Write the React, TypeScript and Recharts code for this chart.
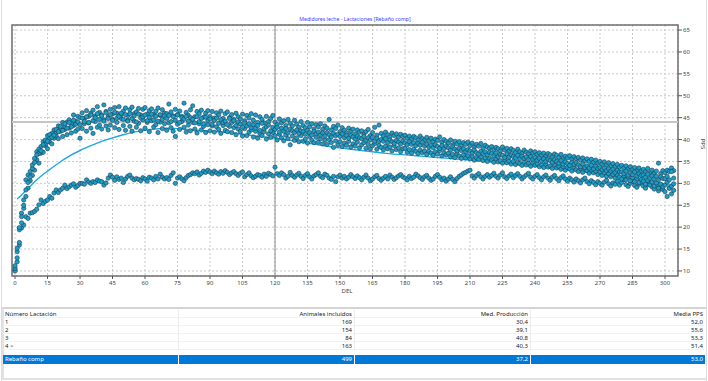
import React from 'react';
import {
  ComposedChart, Scatter, Line, XAxis, YAxis, CartesianGrid, ReferenceLine, ReferenceArea,
} from 'recharts';

// axis ticks
const xTicks = [0, 15, 30, 45, 60, 75, 90, 105, 120, 135, 150, 165, 180, 195, 210, 225, 240, 255, 270, 285, 300];
const yTicks = [10, 15, 20, 25, 30, 35, 40, 45, 50, 55, 60, 65];
const xMinorTicks = [0, 3, 6, 9, 12, 15, 18, 21, 24, 27, 30, 33, 36, 39, 42, 45, 48, 51, 54, 57, 60, 63, 66, 69, 72, 75, 78, 81, 84, 87, 90, 93, 96, 99, 102, 105, 108, 111, 114, 117, 120, 123, 126, 129, 132, 135, 138, 141, 144, 147, 150, 153, 156, 159, 162, 165, 168, 171, 174, 177, 180, 183, 186, 189, 192, 195, 198, 201, 204, 207, 210, 213, 216, 219, 222, 225, 228, 231, 234, 237, 240, 243, 246, 249, 252, 255, 258, 261, 264, 267, 270, 273, 276, 279, 282, 285, 288, 291, 294, 297, 300, 303];
const yMinorTicks = [9, 10, 11, 12, 13, 14, 15, 16, 17, 18, 19, 20, 21, 22, 23, 24, 25, 26, 27, 28, 29, 30, 31, 32, 33, 34, 35, 36, 37, 38, 39, 40, 41, 42, 43, 44, 45, 46, 47, 48, 49, 50, 51, 52, 53, 54, 55, 56, 57, 58, 59, 60, 61, 62, 63, 64, 65, 66];

// PPS per DEL (day 0..304), one value per day for each lactation group
const lact1 = [
  10.2, 12.1, 15.9, 19.8, 20.5, 22.4, 22.0, 23.2, 23.3, 23.6,
  24.1, 25.1, 26.2, 25.4, 25.9, 26.2, 27.0, 26.6, 27.8, 28.5,
  27.9, 28.5, 28.9, 29.6, 28.8, 29.2, 29.6, 29.9, 29.1, 29.5,
  30.0, 30.0, 29.8, 30.8, 30.3, 30.0, 30.4, 30.2, 30.8, 30.5,
  30.4, 29.6, 30.1, 31.2, 31.9, 31.4, 30.7, 31.5, 30.9, 31.2,
  30.2, 31.0, 31.6, 31.9, 31.2, 30.8, 31.1, 30.9, 30.6, 31.3,
  31.0, 30.5, 31.4, 31.2, 30.8, 31.6, 31.0, 32.1, 31.4, 31.0,
  31.3, 30.9, 31.8, 32.4, 30.0, 31.2, 31.5, 31.0, 30.6, 31.3,
  31.8, 32.0, 32.4, 32.2, 32.6, 31.9, 32.3, 32.8, 32.5, 33.0,
  32.6, 32.2, 32.8, 32.4, 32.1, 32.7, 32.3, 32.9, 32.5, 32.0,
  32.4, 32.7, 32.2, 31.8, 32.3, 32.6, 31.5, 32.0, 32.4, 31.7,
  31.3, 31.6, 32.0, 31.8, 31.4, 32.1, 31.6, 32.3, 32.0, 31.7,
  33.7, 32.2, 31.8, 32.4, 32.0, 31.2, 31.6, 32.5, 31.8, 31.4,
  31.9, 32.3, 31.6, 31.1, 31.8, 32.2, 31.5, 31.0, 31.7, 32.0,
  32.4, 31.6, 31.3, 32.1, 31.8, 31.2, 30.9, 31.6, 30.4, 31.5,
  31.9, 31.2, 31.6, 31.0, 31.4, 32.0, 31.5, 31.1, 31.7, 31.3,
  30.8, 31.4, 31.9, 31.2, 30.6, 31.0, 31.5, 31.8, 31.1, 30.7,
  31.2, 31.6, 31.0, 31.9, 31.4, 30.9, 31.3, 31.7, 32.0, 31.5,
  31.2, 30.8, 31.6, 31.1, 31.4, 32.1, 31.7, 31.3, 30.9, 31.5,
  31.8, 31.2, 30.7, 31.0, 31.6, 32.0, 31.4, 30.8, 31.2, 30.5,
  31.0, 31.5, 30.9, 30.4, 31.1, 31.6, 31.9, 32.3, 32.5, 32.8,
  33.0, 31.7, 31.2, 31.8, 32.2, 31.5, 31.0, 31.6, 32.0, 31.4,
  31.8, 32.3, 31.6, 31.2, 31.9, 32.4, 31.5, 31.1, 31.7, 32.1,
  31.3, 31.8, 32.2, 31.6, 31.0, 31.5, 31.9, 32.3, 31.4, 31.0,
  31.6, 32.0, 31.3, 30.8, 31.5, 31.9, 31.2, 30.7, 31.4, 31.8,
  31.1, 30.6, 31.3, 31.7, 31.0, 30.5, 31.2, 30.8, 30.3, 31.0,
  30.6, 30.1, 30.8, 31.2, 30.4, 29.9, 30.6, 30.2, 29.7, 30.4,
  30.0, 29.6, 30.3, 30.7, 29.9, 29.4, 30.1, 29.8, 30.5, 29.6,
  30.2, 30.8, 29.7, 29.3, 30.0, 30.5, 29.5, 29.1, 29.8, 30.3,
  29.4, 28.9, 29.7, 30.1, 29.2, 28.7, 29.5, 28.3, 29.0, 28.6,
  28.1, 27.0, 28.9, 27.6, 28.4,
];

const lact2 = [
  10.0, 14.4, 19.4, 23.2, 24.3, 27.0, 28.9, 30.6, 31.8, 33.0,
  35.4, 34.6, 36.9, 37.1, 38.6, 37.9, 39.4, 39.0, 40.3, 40.8,
  40.2, 41.9, 40.7, 42.3, 41.1, 42.6, 41.5, 43.2, 41.9, 42.4,
  40.3, 42.5, 43.6, 41.9, 43.8, 42.6, 41.4, 44.1, 42.8, 43.3,
  42.4, 44.5, 43.1, 42.2, 43.3, 44.6, 42.7, 43.9, 42.3, 44.8,
  43.2, 42.1, 44.4, 43.0, 41.9, 44.2, 42.8, 43.7, 42.0, 44.5,
  42.6, 43.9, 41.8, 44.3, 42.9, 43.4, 41.6, 44.0, 42.5, 43.6,
  42.1, 43.8, 42.7, 41.9, 40.7, 43.5, 42.3, 44.1, 42.8, 41.7,
  43.3, 42.0, 43.9, 42.4, 41.5, 43.6, 42.2, 43.0, 41.6, 43.4,
  42.0, 43.1, 41.7, 42.9, 42.3, 41.4, 43.2, 42.1, 41.8, 43.0,
  41.6, 42.7, 41.1, 42.4, 41.8, 40.8, 42.5, 40.9, 41.7, 42.2,
  40.6, 41.9, 40.3, 41.4, 40.9, 41.8, 40.1, 41.3, 40.5, 41.6,
  40.9, 39.9, 41.2, 40.4, 39.7, 41.0, 40.2, 38.8, 40.8, 39.8,
  40.4, 39.5, 40.9, 39.6, 40.1, 39.2, 40.7, 39.8, 39.3, 40.5,
  39.4, 40.2, 39.0, 39.9, 38.9, 40.0, 39.3, 38.2, 39.7, 38.8,
  39.5, 38.4, 39.2, 38.7, 39.6, 38.3, 39.0, 38.5, 39.4, 38.1,
  38.8, 39.3, 38.0, 38.9, 37.9, 38.6, 39.1, 37.8, 38.7, 38.2,
  37.6, 38.5, 37.9, 38.3, 37.4, 38.6, 37.7, 38.1, 37.2, 37.9,
  38.0, 37.1, 37.7, 36.9, 37.8, 37.3, 36.8, 37.6, 37.0, 37.4,
  36.6, 37.3, 36.9, 36.4, 37.2, 36.7, 37.5, 36.3, 36.9, 36.5,
  36.9, 36.1, 36.6, 35.9, 36.8, 36.2, 35.7, 36.5, 35.8, 36.3,
  35.6, 36.2, 35.3, 35.9, 35.5, 36.1, 35.2, 35.8, 35.0, 35.7,
  35.3, 34.8, 35.6, 34.9, 35.2, 34.6, 35.4, 34.7, 35.1, 34.4,
  35.0, 34.3, 34.8, 34.5, 34.1, 34.9, 34.2, 34.6, 33.9, 34.7,
  34.1, 34.5, 33.8, 34.3, 33.6, 34.4, 33.7, 34.0, 33.4, 34.2,
  33.5, 33.9, 33.2, 33.8, 33.0, 33.6, 33.3, 32.8, 33.7, 33.1,
  32.7, 33.4, 32.5, 33.2, 32.9, 32.3, 33.0, 32.4, 32.8, 32.0,
  32.6, 31.8, 32.4, 31.6, 32.2, 31.5, 32.0, 31.2, 31.9, 31.4,
  31.0, 31.7, 30.8, 31.5, 30.6, 31.3, 30.4, 31.1, 30.2, 30.9,
  30.5, 29.8, 30.7, 29.6, 30.3, 29.4, 30.1, 28.9, 29.8, 29.2,
  29.6, 30.3, 28.9, 29.4, 29.9,
];

const lact3 = [
  10.6, 13.0, 16.5, 21.0, 26.2, 28.5, 31.9, 32.7, 33.4, 35.7,
  37.2, 36.8, 38.4, 39.5, 39.0, 40.9, 40.3, 41.4, 42.2, 41.6,
  43.1, 42.4, 43.9, 42.9, 44.0, 44.5, 43.6, 45.6, 44.2, 45.3,
  45.0, 46.1, 44.8, 46.6, 45.3, 46.0, 46.7, 45.4, 47.5, 46.2,
  45.6, 47.9, 46.4, 45.2, 46.9, 45.8, 47.3, 46.0, 47.5, 45.7,
  46.5, 47.2, 45.5, 46.8, 47.4, 45.9, 46.3, 47.1, 45.6, 46.9,
  47.3, 45.8, 46.6, 47.0, 45.7, 46.4, 47.2, 45.5, 46.8, 46.0,
  45.9, 48.1, 46.3, 45.4, 46.9, 45.7, 46.5, 45.3, 48.3, 46.2,
  45.5, 46.8, 47.7, 45.2, 46.4, 45.9, 46.7, 45.1, 46.0, 46.6,
  45.3, 46.4, 44.9, 46.1, 45.6, 46.5, 44.8, 45.9, 46.3, 45.0,
  45.7, 44.6, 46.0, 45.2, 44.7, 45.8, 44.3, 45.5, 44.9, 45.9,
  44.4, 45.6, 43.9, 45.2, 44.6, 43.8, 45.3, 44.1, 44.8, 45.5,
  44.0, 43.4, 44.7, 43.8, 44.3, 43.2, 44.6, 43.7, 43.1, 44.4,
  43.5, 42.8, 44.1, 43.2, 42.7, 43.9, 42.9, 43.6, 42.4, 43.4,
  42.9, 43.6, 42.3, 43.1, 42.6, 44.6, 42.2, 43.0, 42.5, 43.3,
  41.8, 42.7, 42.1, 41.5, 42.6, 41.9, 42.4, 41.3, 42.2, 41.7,
  42.0, 41.2, 41.8, 42.3, 40.9, 41.6, 42.8, 41.0, 43.3, 41.4,
  40.8, 41.7, 41.1, 40.6, 41.5, 40.9, 41.3, 40.5, 41.2, 40.7,
  41.0, 40.3, 40.8, 40.1, 40.7, 40.4, 39.9, 40.8, 40.2, 39.8,
  40.5, 39.7, 40.3, 39.5, 40.1, 39.8, 40.6, 39.4, 40.0, 39.6,
  39.2, 39.9, 38.8, 39.6, 39.0, 39.5, 38.6, 39.3, 38.9, 39.4,
  38.6, 39.2, 38.3, 38.9, 38.5, 39.1, 38.1, 38.7, 38.3, 38.0,
  38.4, 37.7, 38.2, 37.9, 37.4, 38.3, 37.6, 38.0, 37.3, 37.9,
  37.5, 37.0, 37.8, 37.2, 36.8, 37.6, 37.1, 36.7, 37.4, 36.9,
  37.2, 36.6, 37.0, 36.4, 36.9, 36.2, 36.8, 36.5, 36.0, 36.7,
  36.4, 35.9, 36.6, 35.7, 36.2, 35.8, 36.3, 35.5, 36.1, 35.6,
  35.9, 35.3, 35.8, 35.1, 35.6, 35.0, 35.5, 34.8, 35.3, 34.6,
  35.0, 34.4, 34.9, 34.2, 34.7, 34.0, 34.5, 33.8, 34.3, 33.7,
  34.1, 33.5, 34.0, 33.3, 33.8, 33.1, 33.6, 32.9, 33.5, 32.8,
  33.2, 32.6, 33.4, 32.4, 33.0, 32.3, 32.8, 34.6, 32.2, 32.9,
  32.4, 33.0, 32.7, 33.5, 32.9,
];

const lact4 = [
  11.2, 15.2, 19.9, 22.4, 25.0, 30.8, 30.2, 31.5, 34.2, 34.8,
  36.5, 37.8, 37.4, 38.8, 39.9, 39.6, 41.1, 40.5, 41.0, 42.3,
  41.8, 43.0, 42.1, 43.6, 42.6, 43.9, 42.9, 44.4, 43.5, 44.0,
  43.4, 44.9, 44.1, 45.2, 43.9, 45.6, 44.3, 45.0, 45.9, 44.6,
  45.4, 44.2, 46.1, 44.8, 45.7, 44.4, 46.2, 44.9, 45.3, 46.0,
  44.6, 45.7, 44.2, 45.9, 44.8, 45.4, 44.0, 45.8, 44.9, 45.2,
  45.6, 44.3, 45.1, 45.8, 44.5, 45.3, 44.2, 45.7, 44.6, 45.4,
  44.8, 45.5, 44.1, 45.2, 44.4, 45.6, 43.9, 45.0, 44.7, 45.3,
  44.2, 45.0, 44.6, 43.8, 45.2, 44.1, 44.8, 43.6, 45.1, 44.3,
  44.7, 43.5, 44.4, 44.9, 43.7, 44.5, 43.9, 44.2, 43.4, 44.8,
  43.9, 44.3, 43.2, 44.0, 43.5, 42.8, 43.8, 43.1, 43.6, 42.7,
  43.4, 42.6, 43.2, 42.1, 43.7, 42.5, 42.9, 43.3, 42.0, 42.8,
  42.3, 42.8, 41.7, 42.6, 41.9, 42.5, 41.5, 42.4, 42.0, 41.6,
  42.2, 41.4, 42.0, 41.8, 41.2, 42.1, 41.6, 41.0, 41.9, 41.3,
  41.7, 41.0, 41.5, 40.8, 41.6, 41.1, 40.6, 41.4, 40.9, 41.2,
  40.7, 41.3, 40.4, 40.9, 40.3, 41.0, 40.6, 40.1, 40.8, 40.4,
  40.2, 40.7, 39.8, 40.4, 39.9, 40.5, 39.6, 40.3, 39.7, 40.0,
  39.6, 40.2, 39.3, 39.9, 39.5, 39.1, 39.8, 39.4, 39.0, 39.7,
  39.2, 38.8, 39.5, 38.9, 39.3, 38.6, 39.1, 38.7, 39.4, 38.5,
  38.9, 38.3, 38.7, 38.1, 38.8, 38.4, 38.0, 38.6, 37.9, 38.5,
  38.1, 37.6, 38.3, 37.8, 37.4, 38.0, 37.5, 37.9, 37.2, 37.7,
  37.4, 36.9, 37.6, 37.0, 36.7, 37.3, 36.8, 37.2, 36.5, 37.1,
  36.8, 36.3, 36.9, 36.1, 36.6, 36.4, 35.9, 36.7, 36.0, 36.5,
  36.1, 35.8, 36.4, 35.6, 36.2, 35.7, 36.0, 35.4, 36.1, 35.5,
  35.9, 35.3, 35.7, 35.1, 35.6, 35.0, 35.5, 35.2, 34.8, 35.4,
  35.0, 34.6, 35.2, 34.4, 34.9, 34.5, 34.1, 34.8, 34.3, 34.7,
  34.2, 33.8, 34.4, 33.6, 34.0, 33.5, 34.1, 33.3, 33.9, 33.4,
  33.6, 33.1, 33.5, 32.9, 33.3, 32.8, 33.2, 32.5, 33.0, 32.6,
  32.6, 32.2, 32.8, 31.9, 32.4, 32.0, 32.6, 31.7, 32.2, 31.8,
  31.9, 31.4, 32.1, 31.2, 31.7, 31.0, 31.6, 30.8, 31.5, 31.1,
  31.1, 31.6, 30.8, 32.7, 31.2,
];

// fitted curve for the whole herd (Rebaño comp)
const fitDays = [1, 5, 10, 15, 20, 25, 30, 35, 40, 45, 50, 55, 60, 65, 70, 75, 80, 85, 90, 95, 100, 105, 110, 115, 120, 125, 130, 135, 140, 145, 150, 155, 160, 165, 170, 180, 190, 200, 210, 220, 230, 240, 250, 260, 270, 280, 290, 300, 304];
const fitValues = [26.4, 28.3, 30.8, 32.8, 34.6, 36.2, 37.5, 38.6, 39.6, 40.4, 41.1, 41.7, 42.1, 42.4, 42.6, 42.5, 42.3, 42.1, 41.9, 41.7, 41.5, 41.2, 40.9, 40.6, 40.3, 40.0, 39.6, 39.2, 38.8, 38.4, 38.1, 37.8, 37.5, 37.2, 36.9, 36.5, 36.1, 35.7, 35.3, 34.9, 34.4, 33.9, 33.4, 32.8, 32.2, 31.5, 30.7, 29.8, 29.4];

// summary table
const tableHeader = ['Número Lactación', 'Animales incluidos', 'Med. Producción', 'Media PPS'];
const lactLabels = ['1', '2', '3', '4 >'];
const animals = [169, 154, 84, 163];
const medProd = ['30,4', '39,1', '40,8', '40,3'];
const mediaPps = ['52,0', '55,6', '53,3', '51,4'];
const herdRow = ['Rebaño comp', '499', '37,2', '53,0'];

const toPoints = (vals: number[]) => vals.map((v, i) => ({ x: i, y: v }));
const fitData = fitDays.map((d, i) => ({ x: d, y: fitValues[i] }));

const X_DOMAIN: [number, number] = [-1.4, 306];
const Y_DOMAIN: [number, number] = [8.85, 66.15];
const FONT = '"Noto Sans", "Open Sans", sans-serif';

const Dot = (props: any) => (
  <circle cx={props.cx} cy={props.cy} r={2.15} fill="#1b9fc8" stroke="#1e3d50" strokeWidth={0.6} />
);

const NoLabel = () => <g />;

const colLeft = [3, 178, 354, 530];
const colRight = [178, 354, 530, 705];

function Row({ cells, top, height, selected }: { cells: string[]; top: number; height: number; selected?: boolean }) {
  return (
    <div style={{ position: 'absolute', left: 3, top, width: 702, height, background: selected ? '#0078d7' : 'transparent', borderBottom: selected ? 'none' : '1px solid #f2f2f2', boxSizing: 'border-box' }}>
      {cells.map((c, i) => (
        <div key={i} style={{
          position: 'absolute', left: colLeft[i] - 3 + (i === 0 ? 2 : 0), width: colRight[i] - colLeft[i] - 3,
          top: 0, height, lineHeight: `${height}px`, textAlign: i === 0 ? 'left' : 'right',
          color: selected ? '#ffffff' : '#222', whiteSpace: 'nowrap',
          borderLeft: i > 0 ? `1px solid ${selected ? '#ffffff' : '#ececec'}` : 'none',
        }}>{c}</div>
      ))}
    </div>
  );
}

export default function App() {
  const series = [lact1, lact2, lact3, lact4];
  return (
    <div style={{ position: 'absolute', left: 0, top: 0, width: 708, height: 381, background: '#fff', fontFamily: FONT, overflow: 'hidden' }}>
      <div style={{ position: 'absolute', left: 1, top: 0, width: 1, height: 381, background: '#dcdcdc' }} />
      <div style={{ position: 'absolute', left: 706, top: 0, width: 1, height: 381, background: '#dcdcdc' }} />

      <div style={{ position: 'absolute', left: 0, width: 710, top: 15, textAlign: 'center', fontSize: 5.2, color: '#3b3bff' }}>
        Medidores leche - Lactaciones [Rebaño comp]
      </div>

      <div style={{ position: 'absolute', left: 0, top: 0 }}>
        <ComposedChart width={708} height={300} margin={{ top: 25, right: 0, left: 12, bottom: 0 }}>
          <CartesianGrid stroke="#c9c9c9" strokeDasharray="2 2" />
          <XAxis xAxisId="minor" type="number" dataKey="x" domain={X_DOMAIN} allowDataOverflow ticks={xMinorTicks}
            height={0} axisLine={false} tick={NoLabel} tickSize={2} tickLine={{ stroke: '#666' }} />
          <XAxis type="number" dataKey="x" domain={X_DOMAIN} allowDataOverflow ticks={xTicks} interval={0}
            height={24} axisLine={false} tickSize={3} tickMargin={2} tickLine={{ stroke: '#555' }}
            tick={{ fontSize: 6, fill: '#444', fontFamily: FONT }} />
          <YAxis yAxisId="minor" orientation="right" type="number" dataKey="y" domain={Y_DOMAIN} allowDataOverflow ticks={yMinorTicks}
            width={0} axisLine={false} tick={NoLabel} tickSize={2} tickLine={{ stroke: '#666' }} />
          <YAxis orientation="right" type="number" dataKey="y" domain={Y_DOMAIN} allowDataOverflow ticks={yTicks} interval={0}
            width={30} axisLine={false} tickSize={4} tickMargin={1} tickLine={{ stroke: '#555' }}
            tick={{ fontSize: 6, fill: '#444', fontFamily: FONT, textAnchor: 'start' }} />
          <ReferenceLine y={44} stroke="#c6c6c6" strokeWidth={2} />
          <ReferenceLine x={120} stroke="#8c8c8c" strokeWidth={1} />
          {series.map((s, i) => (
            <Scatter key={i} data={toPoints(s)} dataKey="y" shape={Dot} isAnimationActive={false} />
          ))}
          <Line data={fitData} dataKey="y" type="monotone" stroke="#1fa9dc" strokeWidth={1.4} dot={false} isAnimationActive={false} />
          <ReferenceArea x1={X_DOMAIN[0]} x2={X_DOMAIN[1]} y1={Y_DOMAIN[0]} y2={Y_DOMAIN[1]} fill="none" stroke="#707070" strokeWidth={1.5} ifOverflow="visible" />
        </ComposedChart>
      </div>

      <div style={{ position: 'absolute', left: 334, width: 26, top: 288, textAlign: 'center', fontSize: 6, lineHeight: '6px', color: '#444' }}>DEL</div>
      <div style={{ position: 'absolute', left: 688, top: 140, width: 30, textAlign: 'center', fontSize: 6, color: '#444', transform: 'rotate(90deg)' }}>PPS</div>

      {/* table */}
      <div style={{ position: 'absolute', left: 2, top: 307, width: 704, height: 73, borderTop: '2px solid #d4d4d4', borderLeft: '2px solid #e2e2e2', borderBottom: '2px solid #e2e2e2', boxSizing: 'border-box' }} />
      <div style={{ position: 'absolute', left: 0, top: 0, fontSize: 6 }}>
        <Row cells={tableHeader} top={310} height={8} />
        {lactLabels.map((l, i) => (
          <Row key={l} cells={[l, String(animals[i]), medProd[i], mediaPps[i]]} top={318 + i * 8} height={8} />
        ))}
        <Row cells={herdRow} top={355} height={9} selected />
      </div>
    </div>
  );
}
